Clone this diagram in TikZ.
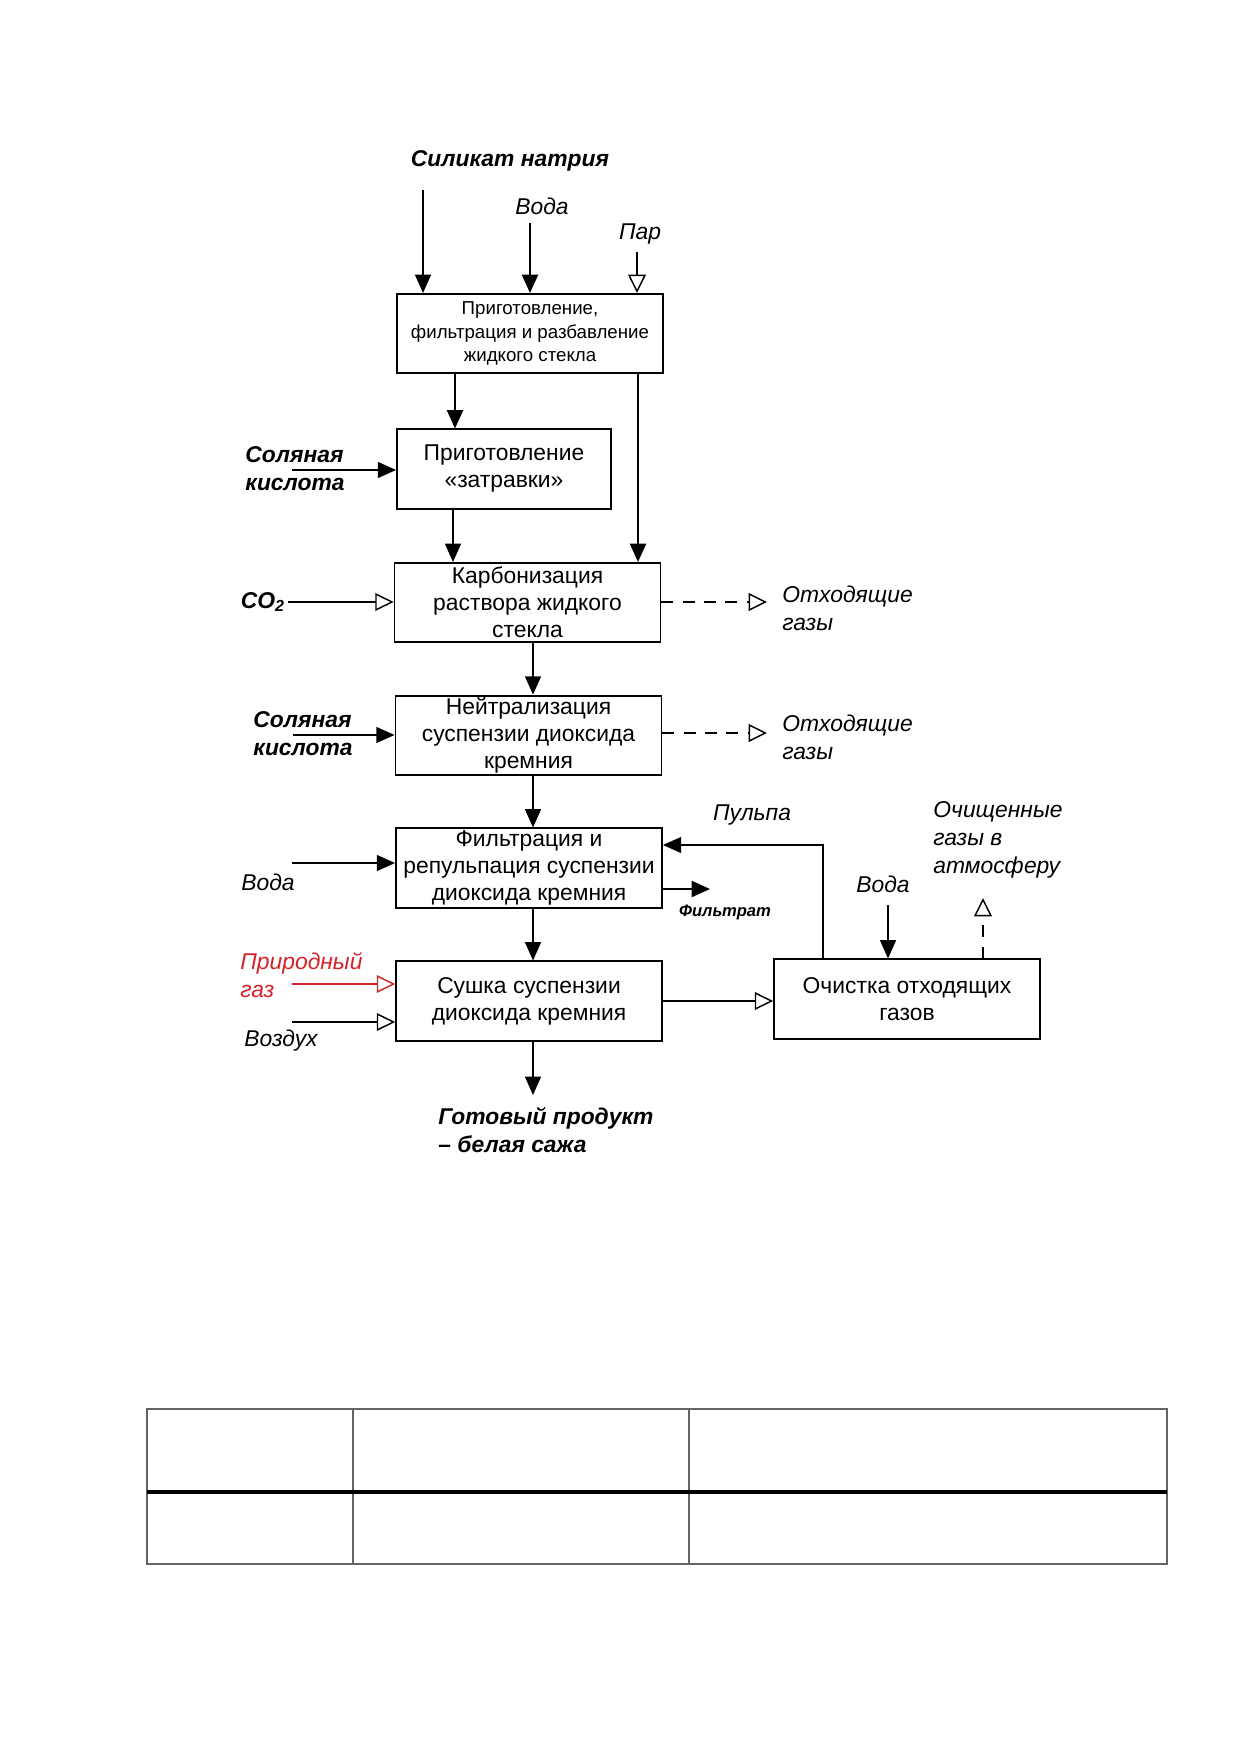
\documentclass[tikz,border=0pt]{standalone}
\usepackage{fontspec}
\setmainfont{Liberation Sans}
\usetikzlibrary{arrows.meta, positioning}
\definecolor{gasred}{RGB}{212,36,42}
\definecolor{tablegray}{RGB}{100,100,100}

\begin{document}
\begin{tikzpicture}[
  x=0.16922mm, y=-0.16922mm,
  stage/.style={
    rectangle, draw, line width=0.9pt,
    minimum width=45mm, minimum height=13.4mm,
    inner sep=1pt, align=center,
    font=\fontsize{11}{13}\selectfont
  },
  lbl/.style={font=\fontsize{11}{13.5}\selectfont\itshape, align=left, inner sep=0pt},
  blbl/.style={lbl, font=\fontsize{11}{13.5}\selectfont\bfseries\itshape},
  flow/.style={-{Triangle[length=3.1mm, width=2.7mm]}, line width=0.7pt},
  gas/.style={-{Triangle[open, length=3.1mm, width=3mm]}, line width=0.7pt}
]
\useasboundingbox (0,0) rectangle (1241,1754);

% Nodes
\node[stage, font=\fontsize{9}{11.2}\selectfont] (prep) at (530,333.5) {Приготовление,\\фильтрация и разбавление\\жидкого стекла};
\node[stage, minimum width=36.2mm] (seed) at (504,469) {Приготовление\\«затравки»};
\node[stage] (carb) at (527.5,602.5) {Карбонизация\\раствора жидкого\\стекла};
\node[stage] (neut) at (528.5,735.5) {Нейтрализация\\суспензии диоксида\\кремния};
\node[stage] (filt) at (529,868) {Фильтрация и\\репульпация суспензии\\диоксида кремния};
\node[stage] (dry) at (529,1001) {Сушка суспензии\\диоксида кремния};
\node[stage] (clean) at (907,999) {Очистка отходящих\\газов};

% Labels
\node[blbl] (lSilicate) at (510,161) {Силикат натрия};
\node[lbl] (lWater1) at (542,206) {Вода};
\node[lbl] (lSteam) at (640,234) {Пар};
\node[blbl, anchor=west] (lHCl1) at (245,469) {Соляная\\кислота};
\node[blbl] (lCO2) at (263,602) {CO\textsubscript{2}};
\node[lbl, anchor=west] (lOff1) at (782,608) {Отходящие\\газы};
\node[blbl, anchor=west] (lHCl2) at (253,734) {Соляная\\кислота};
\node[lbl, anchor=west] (lOff2) at (782,737) {Отходящие\\газы};
\node[lbl] (lPulp) at (752,815) {Пульпа};
\node[lbl, anchor=west] (lClean) at (933,840) {Очищенные\\газы в\\атмосферу};
\node[lbl] (lWater3) at (883,884) {Вода};
\node[blbl, font=\fontsize{8}{10}\selectfont\bfseries\itshape] (lFiltrate) at (725,912) {Фильтрат};
\node[lbl] (lWater2) at (268,882) {Вода};
\node[lbl, anchor=west, text=gasred] (lGas) at (240,975) {Природный\\газ};
\node[lbl] (lAir) at (281,1041) {Воздух};
\node[blbl, anchor=west] (lProduct) at (438,1130) {Готовый продукт\\– белая сажа};

% Free ends
\coordinate (silIn) at (423,190);
\coordinate (waterIn) at (530,223);
\coordinate (steamIn) at (637,252);
\coordinate (hclIn) at (292,470);
\coordinate (co2In) at (288,602);
\coordinate (off1End) at (767,602);
\coordinate (hclIn2) at (293,735);
\coordinate (off2End) at (767,733);
\coordinate (waterIn2) at (292,863);
\coordinate (filtEnd) at (710,889);
\coordinate (gasIn) at (292,984);
\coordinate (airIn) at (292,1022);
\coordinate (waterIn3) at (888,905);
\coordinate (atmEnd) at (983,898);
\coordinate (prodEnd) at (533,1095);

% Edges
\draw[flow] (silIn) -- (silIn |- prep.north);
\draw[flow, line width=1.1pt] (waterIn) -- (waterIn |- prep.north);
\draw[gas] (steamIn) -- (steamIn |- prep.north);
\draw[flow, line width=1.1pt] (prep.south -| 455,0) -- (seed.north -| 455,0);
\draw[flow, line width=1.1pt] (prep.south -| 638,0) -- (carb.north -| 638,0);
\draw[flow] (seed.south -| 453,0) -- (carb.north -| 453,0);
\draw[flow] (hclIn) -- (hclIn -| seed.west);
\draw[gas] (co2In) -- (co2In -| carb.west);
\draw[gas, dash pattern=on 2mm off 1.6mm] (carb.east |- off1End) -- (off1End);
\draw[flow] (carb.south -| 533,0) -- (neut.north -| 533,0);
\draw[flow] (hclIn2) -- (hclIn2 -| neut.west);
\draw[gas, dash pattern=on 2mm off 1.6mm] (neut.east |- off2End) -- (off2End);
\draw[flow] (neut.south -| 533,0) -- (filt.north -| 533,0);
\draw[flow] (waterIn2) -- (waterIn2 -| filt.west);
\draw[flow] (clean.north -| 823,0) |- (filt.east |- 0,845);
\draw[flow, line width=1.1pt] (filt.east |- filtEnd) -- (filtEnd);
\draw[flow] (filt.south -| 533,0) -- (dry.north -| 533,0);
\draw[gas, draw=gasred] (gasIn) -- (gasIn -| dry.west);
\draw[gas] (airIn) -- (airIn -| dry.west);
\draw[gas] (dry.east) -- (dry.east -| clean.west);
\draw[flow] (waterIn3) -- (waterIn3 |- clean.north);
\draw[gas, dash pattern=on 2mm off 1.6mm] (clean.north -| atmEnd) -- (atmEnd);
\draw[flow] (dry.south -| prodEnd) -- (prodEnd);

% Table
\draw[tablegray, line width=0.7pt] (147,1409) rectangle (1167,1564);
\draw[tablegray, line width=0.7pt] (353,1409) -- (353,1564) (689,1409) -- (689,1564);
\draw[line width=2pt] (147,1492) -- (1167,1492);

\end{tikzpicture}
\end{document}
